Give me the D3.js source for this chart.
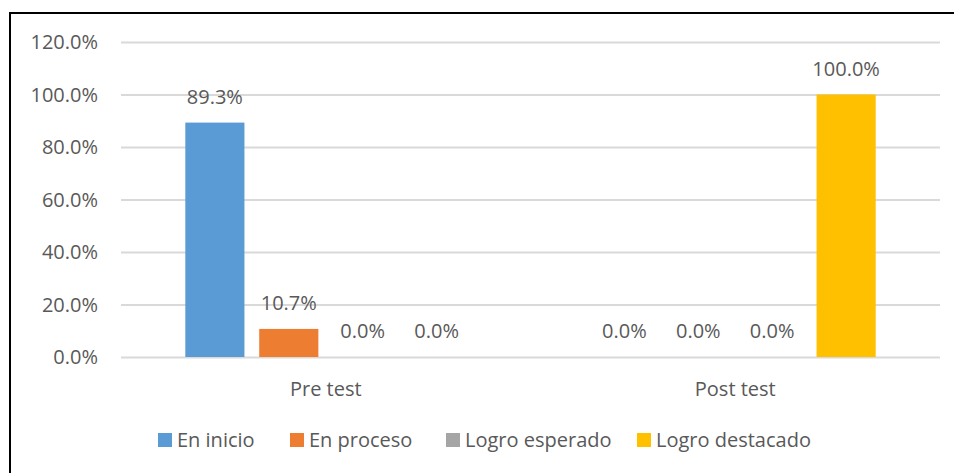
<!DOCTYPE html>
<html lang="en">
<head>
<meta charset="UTF-8">
<script src="https://cdnjs.cloudflare.com/ajax/libs/d3/7.8.5/d3.min.js"></script>
<style>
  body { margin: 0; background: #fff; }
  svg text { font-family: 'Open Sans', 'Liberation Sans', sans-serif; fill: #595959; }
</style>
</head>
<body>
<div id="chart"></div>
<script>
const categories = ["Pre test", "Post test"];
const seriesNames = ["En inicio", "En proceso", "Logro esperado", "Logro destacado"];
const seriesColors = ["#5b9bd5", "#ed7d31", "#a5a5a5", "#ffc000"];
const preTest = [89.3, 10.7, 0.0, 0.0];
const postTest = [0.0, 0.0, 0.0, 100.0];
const yTicks = [0, 20, 40, 60, 80, 100, 120];

const values = [preTest, postTest];
const width = 954, height = 473;
const margin = {top: 42, right: 14, bottom: 116, left: 121};
const fs = "20px";

const svg = d3.select("#chart").append("svg")
    .attr("width", width).attr("height", height);

// outer frame (runs past the right/bottom edge, as in the source)
svg.append("rect")
    .attr("x", 10).attr("y", 13)
    .attr("width", 980).attr("height", 500)
    .attr("fill", "none").attr("stroke", "#000").attr("stroke-width", 2);

const x0 = d3.scaleBand().domain(categories)
    .range([margin.left, width - margin.right]);
const x1 = d3.scaleBand().domain(seriesNames)
    .range([0, x0.bandwidth()]).paddingInner(0.2).paddingOuter(0.87);
const y = d3.scaleLinear().domain([0, 120])
    .range([height - margin.bottom, margin.top]);

// gridlines
svg.append("g").selectAll("line").data(yTicks).join("line")
    .attr("x1", margin.left).attr("x2", width - margin.right)
    .attr("y1", d => y(d) + 0.5).attr("y2", d => y(d) + 0.5)
    .attr("stroke", "#d9d9d9").attr("stroke-width", 2);

// y labels
svg.append("g").selectAll("text").data(yTicks).join("text")
    .attr("x", 98).attr("y", d => y(d))
    .attr("dy", "0.35em").attr("text-anchor", "end")
    .style("font-size", fs)
    .text(d => d.toFixed(1) + "%");

// bars
const groups = svg.append("g").selectAll("g").data(categories).join("g")
    .attr("transform", d => `translate(${x0(d)},0)`);

groups.selectAll("rect")
    .data((c, i) => values[i].map((v, j) => ({name: seriesNames[j], v, color: seriesColors[j]})))
    .join("rect")
    .attr("x", d => x1(d.name))
    .attr("width", x1.bandwidth())
    .attr("y", d => y(d.v))
    .attr("height", d => y(0) - y(d.v))
    .attr("fill", d => d.color);

groups.selectAll("text")
    .data((c, i) => values[i].map((v, j) => ({name: seriesNames[j], v})))
    .join("text")
    .attr("x", d => x1(d.name) + x1.bandwidth() / 2)
    .attr("y", d => y(d.v) - 19)
    .attr("text-anchor", "middle")
    .style("font-size", fs)
    .text(d => d.v.toFixed(1) + "%");

// category labels
svg.append("g").selectAll("text").data(categories).join("text")
    .attr("x", d => x0(d) + x0.bandwidth() / 2)
    .attr("y", y(0) + 39)
    .attr("text-anchor", "middle")
    .style("font-size", fs)
    .text(d => d);

// legend
const legendX = [158, 290, 446, 637];
const legend = svg.append("g").selectAll("g").data(seriesNames).join("g")
    .attr("transform", (d, i) => `translate(${legendX[i]},433)`);
legend.append("rect")
    .attr("width", 14).attr("height", 14)
    .attr("fill", (d, i) => seriesColors[i]);
legend.append("text")
    .attr("x", 19).attr("y", 7).attr("dy", "0.35em")
    .style("font-size", fs)
    .text(d => d);
</script>
</body>
</html>
